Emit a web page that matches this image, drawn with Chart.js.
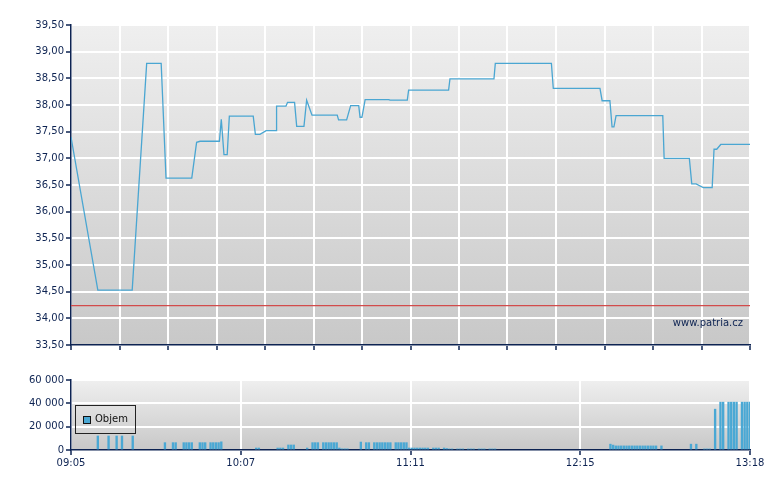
<!DOCTYPE html>
<html>
<head>
<meta charset="utf-8">
<script src="https://cdn.jsdelivr.net/npm/chart.js@4"></script>
<style>
  body { margin: 0; background: #fff; width: 780px; height: 490px; position: relative; overflow: hidden; font-family: "DejaVu Sans", sans-serif; }
  #priceWrap { position: absolute; left: 0; top: 0; width: 780px; height: 360px; }
  #volWrap { position: absolute; left: 0; top: 355px; width: 780px; height: 135px; }
  #mark { position: absolute; right: 37px; top: 316px; font-size: 10px; line-height: 14px; color: #0d2352; }
  #legend { position: absolute; left: 75px; top: 405px; width: 59px; height: 27px; border: 1px solid #222; font-size: 10px; color: #111; }
  #legend .sw { position: absolute; left: 7px; top: 10px; width: 6px; height: 6px; background: #4aa8d4; border: 1px solid #111; }
  #legend .tx { position: absolute; left: 19px; top: 6px; line-height: 14px; }
</style>
</head>
<body>
<div id="priceWrap"><canvas id="priceChart" width="780" height="360"></canvas></div>
<div id="volWrap"><canvas id="volChart" width="780" height="135"></canvas></div>
<div id="mark">www.patria.cz</div>
<div id="legend"><div class="sw"></div><div class="tx">Objem</div></div>
<script>
// minutes after 09:05
var priceMin = [0, 10, 22.8, 28.2, 33.6, 35.4, 45, 46.8, 48.1, 55.3, 56, 57, 58.2, 59, 67.9, 68.7, 70.4, 72.7, 76.4, 76.6,
  80.1, 80.7, 83.3, 84.1, 86.8, 87.8, 89.8, 99.2, 99.7, 102.7, 104.2, 107.2, 107.7, 108.4, 109.6, 118.4, 118.9, 125.3,
  125.8, 140.7, 141.2, 157.6, 158.1, 179, 179.7, 197.1, 197.9, 200.8, 201.6, 202.3, 203.1, 220.5, 221, 230.4, 231.3,
  232.9, 235.6, 238.9, 239.6, 240.6, 242.1, 253];
var priceVal = [37.40, 34.53, 34.53, 38.78, 38.78, 36.63, 36.63, 37.30, 37.32, 37.32, 37.73, 37.07, 37.07, 37.79, 37.79,
  37.45, 37.45, 37.52, 37.52, 37.98, 37.98, 38.05, 38.05, 37.60, 37.60, 38.09, 37.81, 37.81, 37.72, 37.72, 37.99, 37.99,
  37.77, 37.77, 38.10, 38.10, 38.09, 38.09, 38.28, 38.28, 38.49, 38.49, 38.78, 38.78, 38.31, 38.31, 38.08, 38.08, 37.59,
  37.59, 37.80, 37.80, 37.00, 37.00, 36.52, 36.52, 36.45, 36.45, 37.17, 37.17, 37.26, 37.26];
var refPrice = 34.24;

var volMin = [10, 14, 17, 19, 23,
  35, 38, 39, 42, 43, 44, 45, 48, 49, 50, 52, 53, 54, 55, 56,
  69, 70, 77, 78, 79, 81, 82, 83, 88,
  90, 91, 92, 94, 95, 96, 97, 98, 99, 100, 101, 102, 103,
  108, 110, 111, 113, 114, 115, 116, 117, 118, 119, 121, 122, 123, 124, 125,
  126, 127, 128, 129, 130, 131, 132, 133, 135, 136, 137, 139, 140,
  141, 142, 144, 145, 146, 148, 149, 150, 152, 153, 154, 156, 157, 158,
  201, 202, 203, 204, 205, 206, 207, 208, 209, 210, 211, 212, 213, 214, 215, 216, 217, 218, 220,
  231, 233, 236, 237, 238, 240,
  242, 243, 245, 246, 247, 248, 250, 251, 252, 253];
var volAmt = [12000, 12000, 12000, 12000, 12000,
  6300, 6300, 6300, 6300, 6300, 6300, 6300, 6300, 6300, 6300, 6300, 6300, 6300, 6300, 7000,
  1700, 1700, 1700, 1700, 1700, 4300, 4300, 4300, 1700,
  6300, 6300, 6300, 6300, 6300, 6300, 6300, 6300, 6300, 1700, 1000, 1000, 1000,
  6800, 6300, 6300, 6300, 6300, 6300, 6300, 6300, 6300, 6300, 6300, 6300, 6300, 6300, 6300,
  1700, 1700, 1700, 1700, 1700, 1700, 1700, 1700, 1700, 1700, 1700, 1700, 1300,
  900, 900, 900, 900, 900, 900, 900, 900, 900, 900, 900, 900, 900, 900,
  5000, 4200, 3500, 3500, 3500, 3500, 3500, 3500, 3500, 3500, 3500, 3500, 3500, 3500, 3500, 3500, 3500, 3500, 3500,
  5000, 5000, 900, 900, 900, 35000,
  41000, 41000, 41000, 41000, 41000, 41000, 41000, 41000, 41000, 41000];

var timeLabels = ['09:05', '10:07', '11:11', '12:15', '13:18'];
var sessionLen = 253;

var navy = '#0d2352';
var fontSpec = { family: 'DejaVu Sans', size: 10 };

var bgPlugin = {
  id: 'bg',
  beforeDraw: function (chart) {
    var a = chart.chartArea, c = chart.ctx;
    var g = c.createLinearGradient(0, a.top, 0, a.bottom);
    g.addColorStop(0, '#efefef');
    g.addColorStop(1, '#c8c8c8');
    c.save();
    c.fillStyle = g;
    c.fillRect(a.left, a.top, a.right - a.left, a.bottom - a.top);
    c.restore();
  }
};

function pts(xs, ys) {
  return xs.map(function (x, i) { return { x: x, y: ys[i] }; });
}

new Chart(document.getElementById('priceChart'), {
  type: 'line',
  data: {
    datasets: [{
      data: pts(priceMin, priceVal),
      borderColor: '#4aa6d2',
      borderWidth: 1.3,
      pointRadius: 0,
      tension: 0
    }, {
      data: [{ x: 0, y: refPrice }, { x: sessionLen, y: refPrice }],
      borderColor: '#d24b4b',
      borderWidth: 1.2,
      pointRadius: 0
    }]
  },
  options: {
    responsive: false,
    animation: false,
    devicePixelRatio: 1,
    layout: { padding: { top: 25, right: 30, left: 0, bottom: 0 } },
    plugins: { legend: { display: false }, tooltip: { enabled: false } },
    scales: {
      x: {
        type: 'linear', min: 0, max: sessionLen,
        afterBuildTicks: function (s) {
          s.ticks = [];
          for (var i = 0; i <= 14; i++) s.ticks.push({ value: i * sessionLen / 14 });
        },
        afterFit: function (s) { s.height = 15; },
        ticks: { display: false },
        grid: { color: '#ffffff', lineWidth: 2, tickColor: navy, tickLength: 5, tickWidth: 1.5 },
        border: { color: navy, width: 1.5 }
      },
      y: {
        min: 33.5, max: 39.5,
        afterFit: function (s) { s.width = 71; },
        ticks: {
          stepSize: 0.5, color: navy, font: fontSpec, padding: 2,
          callback: function (v) { return v.toFixed(2).replace('.', ','); }
        },
        grid: { color: '#ffffff', lineWidth: 2, tickColor: navy, tickLength: 5, tickWidth: 1.5 },
        border: { color: navy, width: 1.5 }
      }
    }
  },
  plugins: [bgPlugin]
});

new Chart(document.getElementById('volChart'), {
  type: 'bar',
  data: {
    datasets: [{
      label: 'Objem',
      data: pts(volMin, volAmt),
      backgroundColor: '#4aa8d4',
      borderWidth: 0,
      barThickness: 1.7
    }]
  },
  options: {
    responsive: false,
    animation: false,
    devicePixelRatio: 1,
    layout: { padding: { top: 25, right: 30, left: 0, bottom: 0 } },
    plugins: { legend: { display: false }, tooltip: { enabled: false } },
    scales: {
      x: {
        type: 'linear', min: 0, max: sessionLen, offset: false,
        afterBuildTicks: function (s) {
          s.ticks = timeLabels.map(function (t, i) { return { value: i * sessionLen / 4 }; });
        },
        afterFit: function (s) { s.height = 40; },
        ticks: {
          color: navy, font: fontSpec, padding: 2, maxRotation: 0, autoSkip: false,
          callback: function (v, i) { return timeLabels[i]; }
        },
        grid: { color: '#ffffff', lineWidth: 2, offset: false, tickColor: navy, tickLength: 5, tickWidth: 1.5 },
        border: { color: navy, width: 1.5 }
      },
      y: {
        min: 0, max: 60000,
        afterFit: function (s) { s.width = 71; },
        ticks: {
          stepSize: 20000, color: navy, font: fontSpec, padding: 2,
          callback: function (v) { return String(v).replace(/\B(?=(\d{3})+$)/g, ' '); }
        },
        grid: { color: '#ffffff', lineWidth: 2, tickColor: navy, tickLength: 5, tickWidth: 1.5 },
        border: { color: navy, width: 1.5 }
      }
    }
  },
  plugins: [bgPlugin]
});
</script>
</body>
</html>
